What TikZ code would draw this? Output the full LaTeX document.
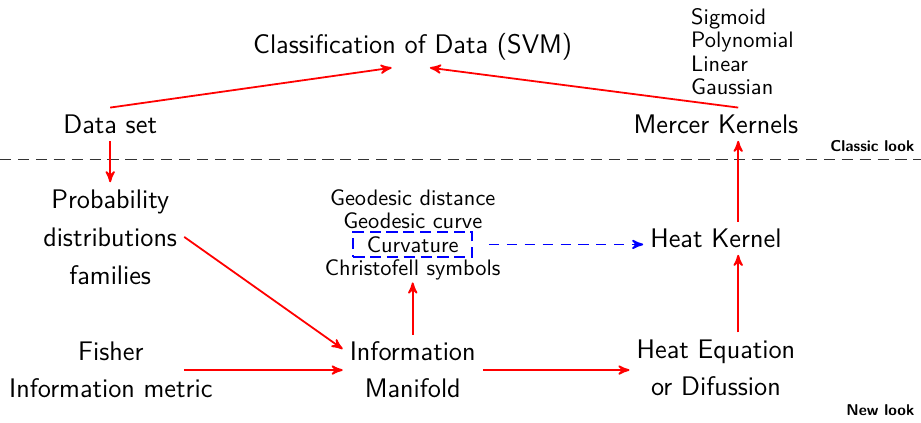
\documentclass[tikz,border=0pt]{standalone}
\usepackage{xcolor}
\usepackage{tikz}
\usetikzlibrary{arrows, positioning}

\begin{document}
\begin{tikzpicture}[
    concept/.style={font=\large\sffamily, align=center, inner sep=3pt},
    detail/.style={font=\sffamily, inner sep=1pt},
    tag/.style={font=\scriptsize\sffamily\bfseries, anchor=east},
    link/.style={->, >=stealth', red, thick},
    weak/.style={->, >=stealth', blue, thick, dash pattern=on 4.5pt off 3.5pt}
]
    \useasboundingbox (0,0) rectangle (14.46,-6.64);

    % Classic look
    \node[concept] (svm) at (6.48,-0.74) {Classification of Data (SVM)};
    \node[concept] (data) at (1.73,-1.95) {Data set};
    \node[concept] (mercer) at (11.24,-1.95) {Mercer Kernels};
    \node[detail, align=left, anchor=west] (kernels) at (10.81,-0.81) {Sigmoid\\[-1.7pt]Polynomial\\[-1.7pt]Linear\\[-1.7pt]Gaussian};

    % Separator
    \coordinate (sepleft) at (0,-2.50);
    \coordinate (sepright) at (14.46,-2.50);
    \draw[black!80, semithick, dash pattern=on 5pt off 3pt] (sepleft) -- (sepright);
    \node[tag] (classic) at (14.48,-2.29) {Classic look};
    \node[tag] (newlook) at (14.48,-6.44) {New look};

    % New look
    \node[concept] (prob) at (1.73,-3.72) {Probability\\[3pt]distributions\\[3pt]families};
    \node[concept] (fisher) at (1.74,-5.81) {Fisher\\[2.5pt]Information metric};
    \node[concept] (infman) at (6.48,-5.81) {Information\\[2.5pt]Manifold};
    \node[concept] (heateq) at (11.24,-5.77) {Heat Equation\\[2.5pt]or Difussion};
    \node[concept] (heatk) at (11.24,-3.74) {Heat Kernel};

    % Geometry of the manifold
    \node[detail, anchor=base] (geodist) at (6.48,-3.23) {Geodesic distance};
    \node[detail, anchor=base] (geocurve) at (6.48,-3.59) {Geodesic curve};
    \node[detail, anchor=base, draw=blue, thick, dash pattern=on 5pt off 2.5pt, inner xsep=6pt, inner ysep=2pt] (curv) at (6.48,-3.96) {Curvature};
    \node[detail, anchor=base] (christ) at (6.48,-4.32) {Christofell symbols};

    % Links
    \draw[link] (data.north) -- ([xshift=-0.33cm]svm.south);
    \draw[link] ([xshift=0.35cm]mercer.north) -- ([xshift=0.27cm]svm.south);
    \draw[link] (data.south) -- (prob.north);
    \draw[link] (prob.east) -- ([yshift=0.33cm]infman.west);
    \draw[link] ([xshift=-0.56cm]fisher.east) -- (infman.west);
    \draw[link] (infman.east) -- (infman.east -| heateq.west);
    \draw[link] (infman.north) -- (christ.south);
    \draw[weak] ([xshift=0.25cm]curv.east) -- (curv.east -| heatk.west);
    \draw[link] ([xshift=0.35cm]heateq.north) -- ([xshift=0.35cm]heatk.south);
    \draw[link] ([xshift=0.35cm]heatk.north) -- ([xshift=0.35cm]mercer.south);
\end{tikzpicture}
\end{document}
